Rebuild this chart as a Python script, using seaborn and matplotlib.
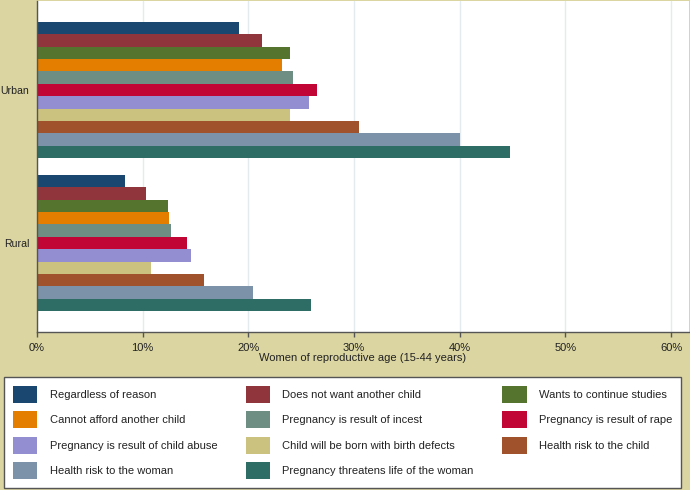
import pandas as pd
import seaborn as sns
import matplotlib.pyplot as plt
from matplotlib.patches import Patch
from matplotlib.ticker import FuncFormatter

sns.set_style("white")
plt.rcParams['font.family'] = ['Liberation Sans', 'DejaVu Sans']

# %%
areas = ['Urban', 'Rural']
reasons = [
    'Regardless of reason',
    'Does not want another child',
    'Wants to continue studies',
    'Cannot afford another child',
    'Pregnancy is result of incest',
    'Pregnancy is result of rape',
    'Pregnancy is result of child abuse',
    'Child will be born with birth defects',
    'Health risk to the child',
    'Health risk to the woman',
    'Pregnancy threatens life of the woman',
]
urban_pct = [19.1, 21.3, 23.9, 23.2, 24.2, 26.5, 25.7, 23.9, 30.5, 40.0, 44.8]
rural_pct = [8.3, 10.3, 12.4, 12.5, 12.7, 14.2, 14.6, 10.8, 15.8, 20.4, 25.9]
colors = ['#1a476f', '#90353b', '#55752f', '#e37e00', '#6e8e84', '#c10534',
          '#938dd2', '#cac27e', '#a0522d', '#7b92a8', '#2d6d66']
xticks = [0, 10, 20, 30, 40, 50, 60]

df = pd.DataFrame({
    'area': [a for a in areas for _ in reasons],
    'reason': reasons * 2,
    'pct': urban_pct + rural_pct,
})

# %%
bg = '#dbd5a2'
fig = plt.figure(figsize=(6.9, 4.9), dpi=100, facecolor=bg)
ax = fig.add_axes([37 / 690, 1 - 332 / 490, 652 / 690, 331 / 490])
ax.set_facecolor('white')

sns.barplot(data=df, x='pct', y='area', hue='reason', order=areas,
            hue_order=reasons, palette=colors, orient='h', width=0.89,
            saturation=1, errorbar=None, linewidth=0, legend=False, ax=ax)

ax.set_xlim(0, 61.7)
ax.set_ylim(1.582, -0.582)
ax.set_xticks(xticks)
ax.xaxis.set_major_formatter(FuncFormatter(lambda v, p: f'{v:.0f}%'))
ax.grid(axis='x', color='#e4ebef', linewidth=1)
ax.set_axisbelow(True)

for s in ['top', 'right']:
    ax.spines[s].set_visible(False)
for s in ['left', 'bottom']:
    ax.spines[s].set_color('#555555')
    ax.spines[s].set_linewidth(1)

ax.tick_params(axis='x', bottom=True, length=3.6, width=1, color='#555555',
               labelsize=8, labelcolor='#222222', pad=4)
ax.tick_params(axis='y', left=False, length=0, labelsize=7.6,
               labelcolor='#222222', pad=5.5)
ax.set_xlabel('Women of reproductive age (15-44 years)', fontsize=8,
              color='#222222', labelpad=0.5)
ax.set_ylabel('')

# legend filled row by row like the original
handles = [Patch(facecolor=c, edgecolor='none') for c in colors]
order = [0, 3, 6, 9, 1, 4, 7, 10, 2, 5, 8]
leg = fig.legend([handles[i] for i in order], [reasons[i] for i in order],
                 ncol=3, loc='upper left',
                 bbox_to_anchor=(4 / 690, 1 - 377 / 490, 677 / 690, 0.0001),
                 mode='expand', borderaxespad=0, fontsize=8,
                 handlelength=2.2, handleheight=1.95, handletextpad=1.1,
                 labelspacing=0.78, borderpad=0.8, columnspacing=2.8,
                 fancybox=False, frameon=True, framealpha=1,
                 facecolor='white')
leg.get_frame().set_edgecolor('#555555')
leg.get_frame().set_linewidth(1)
for t in leg.get_texts():
    t.set_color('#222222')

fig.savefig('out.png', dpi=100, facecolor=bg)
